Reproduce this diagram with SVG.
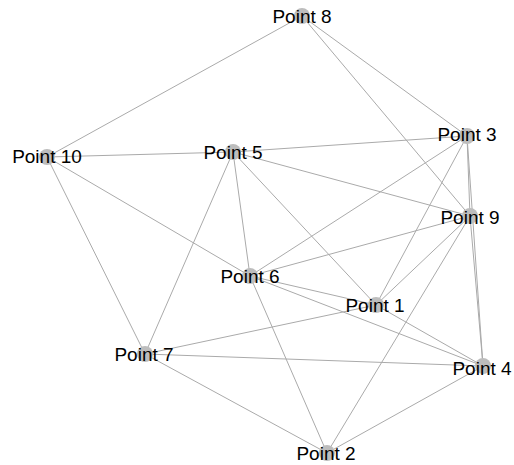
<svg xmlns="http://www.w3.org/2000/svg" width="514" height="465" viewBox="0 0 514 465">
<style>
.e{stroke:#aaaaaa;stroke-width:1;fill:none}
.n circle{fill:#bdbdbd}
.n text{font-family:"Liberation Sans",Arial,sans-serif;font-size:19px;fill:#000;text-anchor:middle}
</style>
<rect width="514" height="465" fill="#fff"/>
<g id="edges" class="e">
<line x1="302" y1="16" x2="47" y2="157"/>
<line x1="302" y1="16" x2="467" y2="136"/>
<line x1="302" y1="16" x2="470" y2="216"/>
<line x1="47" y1="157" x2="233" y2="152"/>
<line x1="47" y1="157" x2="250" y2="276"/>
<line x1="47" y1="157" x2="145" y2="354"/>
<line x1="233" y1="152" x2="467" y2="136"/>
<line x1="233" y1="152" x2="470" y2="216"/>
<line x1="233" y1="152" x2="250" y2="276"/>
<line x1="233" y1="152" x2="376" y2="305"/>
<line x1="233" y1="152" x2="145" y2="354"/>
<line x1="467" y1="136" x2="250" y2="276"/>
<line x1="467" y1="136" x2="376" y2="305"/>
<line x1="467" y1="136" x2="470" y2="216"/>
<line x1="467" y1="136" x2="483" y2="366"/>
<line x1="470" y1="216" x2="250" y2="276"/>
<line x1="470" y1="216" x2="376" y2="305"/>
<line x1="470" y1="216" x2="483" y2="366"/>
<line x1="470" y1="216" x2="327" y2="453"/>
<line x1="250" y1="276" x2="376" y2="305"/>
<line x1="250" y1="276" x2="483" y2="366"/>
<line x1="250" y1="276" x2="327" y2="453"/>
<line x1="376" y1="305" x2="145" y2="354"/>
<line x1="376" y1="305" x2="483" y2="366"/>
<line x1="145" y1="354" x2="483" y2="366"/>
<line x1="145" y1="354" x2="327" y2="453"/>
<line x1="483" y1="366" x2="327" y2="453"/>
</g>
<g id="node8" class="n"><circle cx="302" cy="16" r="8"/><text x="302" y="23">Point 8</text></g>
<g id="node10" class="n"><circle cx="47" cy="157" r="8"/><text x="47" y="163">Point 10</text></g>
<g id="node5" class="n"><circle cx="233" cy="152" r="8"/><text x="233" y="159">Point 5</text></g>
<g id="node3" class="n"><circle cx="467" cy="136" r="8"/><text x="467" y="141">Point 3</text></g>
<g id="node9" class="n"><circle cx="470" cy="216" r="8"/><text x="470" y="224">Point 9</text></g>
<g id="node6" class="n"><circle cx="250" cy="276" r="8"/><text x="250" y="283">Point 6</text></g>
<g id="node1" class="n"><circle cx="376" cy="305" r="8"/><text x="375" y="312">Point 1</text></g>
<g id="node7" class="n"><circle cx="145" cy="354" r="8"/><text x="144" y="361">Point 7</text></g>
<g id="node4" class="n"><circle cx="483" cy="366" r="8"/><text x="482" y="375">Point 4</text></g>
<g id="node2" class="n"><circle cx="327" cy="453" r="8"/><text x="326" y="460">Point 2</text></g>
</svg>
